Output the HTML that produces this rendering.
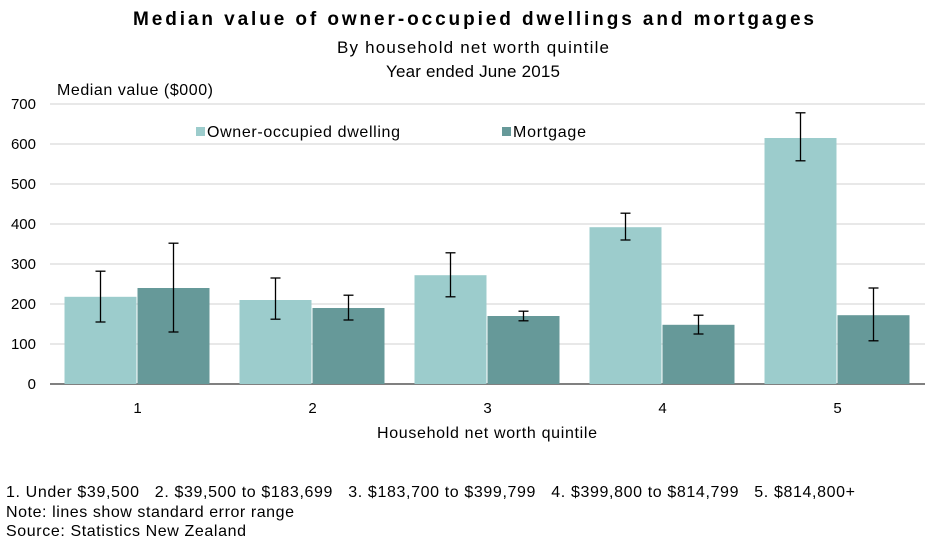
<!DOCTYPE html>
<html><head><meta charset="utf-8"><style>
body{margin:0;background:#fff;font-family:"Liberation Sans",Arial,sans-serif;}
svg text{font-family:"Liberation Sans",Arial,sans-serif;fill:#000;white-space:pre;}
</style></head><body>
<svg id="chart" width="946" height="546" viewBox="0 0 946 546" xmlns="http://www.w3.org/2000/svg" xml:space="preserve">
<text x="133" y="25" font-size="19" font-weight="bold" textLength="681" lengthAdjust="spacing">Median value of owner-occupied dwellings and mortgages</text>
<text x="337" y="53" font-size="17" textLength="272" lengthAdjust="spacing">By household net worth quintile</text>
<text x="386" y="77" font-size="17" textLength="174" lengthAdjust="spacing">Year ended June 2015</text>
<text x="57" y="95" font-size="16" textLength="156" lengthAdjust="spacing">Median value ($000)</text>
<g id="grid"></g><g id="bars"></g><g id="yticks"></g><g id="xticks"></g>
<g>
<rect x="196" y="127" width="9" height="9" fill="#9ccccc"/>
<text x="207" y="137" font-size="16" textLength="193" lengthAdjust="spacing">Owner-occupied dwelling</text>
<rect x="502" y="127" width="9" height="9" fill="#669999"/>
<text x="513" y="137" font-size="16" textLength="73" lengthAdjust="spacing">Mortgage</text>
</g>
<text x="377" y="438" font-size="16" textLength="220" lengthAdjust="spacing">Household net worth quintile</text>
<text x="6" y="497" font-size="16" textLength="849" lengthAdjust="spacing">1. Under $39,500   2. $39,500 to $183,699   3. $183,700 to $399,799   4. $399,800 to $814,799   5. $814,800+</text>
<text x="6" y="517" font-size="16" textLength="288" lengthAdjust="spacing">Note: lines show standard error range</text>
<text x="6" y="536" font-size="16" textLength="240" lengthAdjust="spacing">Source: Statistics New Zealand</text>
</svg>
<script>
const categories=["1","2","3","4","5"];
const dwelling=[218,210,272,392,615];
const mortgage=[240,190,170,148,172];
const dwellingLow=[155,162,218,360,558];
const dwellingHigh=[282,265,328,427,678];
const mortgageLow=[130,160,158,125,108];
const mortgageHigh=[352,222,182,172,240];
const yTicks=[0,100,200,300,400,500,600,700];

const NS="http://www.w3.org/2000/svg";
const x0=50,x1=925,yb=384,yt=104,ymax=700;
const gw=(x1-x0)/categories.length,bw=72;
function y(v){return yb-(v/ymax)*(yb-yt);}
function gx(i){return x0+gw*i+gw/2;}
function mk(t,a,p){const e=document.createElementNS(NS,t);for(const k in a)e.setAttribute(k,a[k]);p.appendChild(e);return e;}
const grid=document.getElementById('grid'),bars=document.getElementById('bars'),yt_=document.getElementById('yticks'),xt=document.getElementById('xticks');
yTicks.forEach(v=>{
 const l=mk('line',{x1:x0,x2:x1,y1:y(v),y2:y(v),stroke:v===0?'#000':'#d0d0d0','stroke-width':1},grid);
 
 
 const t=mk('text',{x:36,y:y(v)+5,'text-anchor':'end','font-size':15},yt_);
 t.textContent=v;
 
 
});
function err(cx,lo,hi){
 const g=mk('g',{stroke:'#000','stroke-width':1.3},bars);
 
 
 mk('line',{x1:cx,x2:cx,y1:y(lo),y2:y(hi)},g);
 mk('line',{x1:cx-5,x2:cx+5,y1:y(lo),y2:y(lo)},g);
 mk('line',{x1:cx-5,x2:cx+5,y1:y(hi),y2:y(hi)},g);
}
categories.forEach((c,i)=>{
 const cx=gx(i);
 const b1=mk('rect',{x:cx-bw-1,y:y(dwelling[i]),width:bw,height:yb-y(dwelling[i]),fill:'#9ccccc'},bars);
 
 
 const b2=mk('rect',{x:cx,y:y(mortgage[i]),width:bw,height:yb-y(mortgage[i]),fill:'#669999'},bars);
 
 
 err(cx-bw/2-1,dwellingLow[i],dwellingHigh[i]);
 err(cx+bw/2,mortgageLow[i],mortgageHigh[i]);
 const t=mk('text',{x:cx,y:413,'text-anchor':'middle','font-size':15},xt);
 t.textContent=c;
 
 
});
</script>
</body></html>
